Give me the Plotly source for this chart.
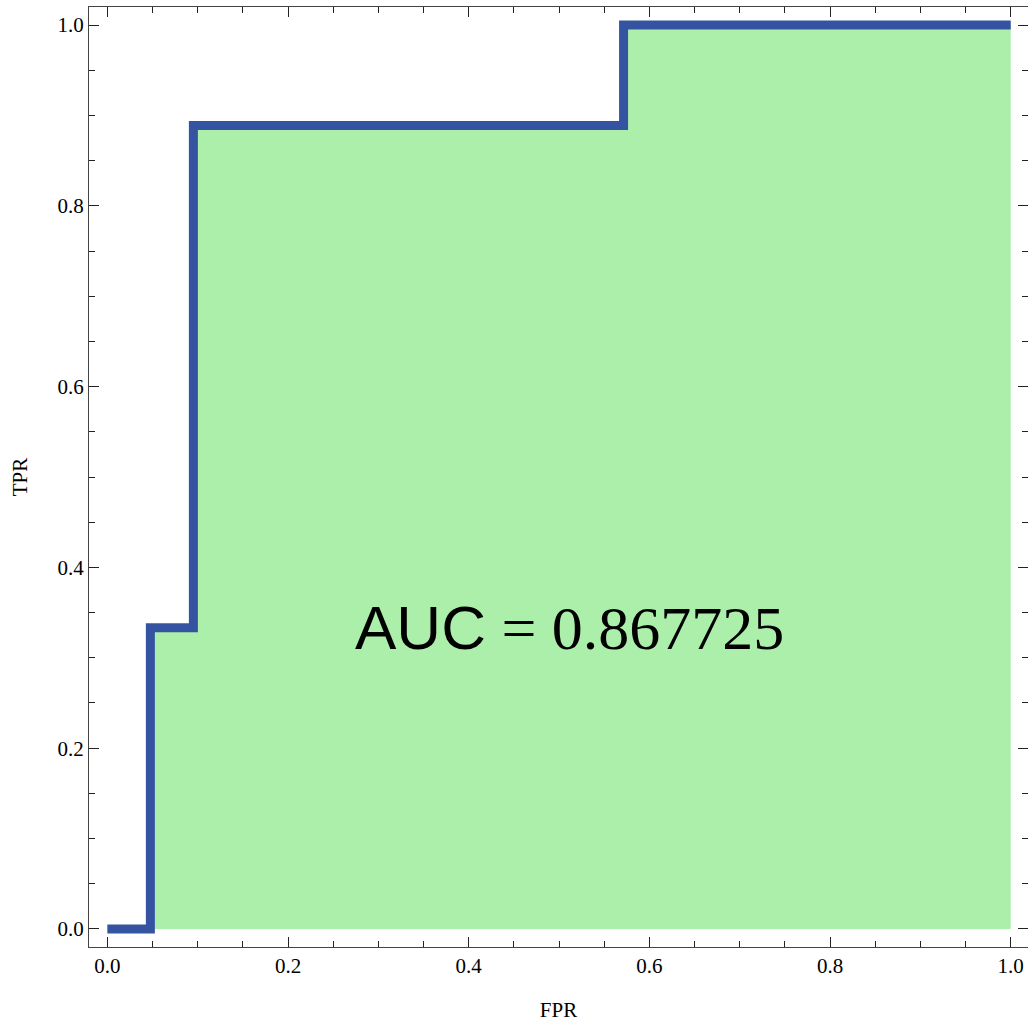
import plotly.graph_objects as go

# ROC curve data (step function)
fpr = [0.0, 1/21, 1/21, 2/21, 2/21, 12/21, 12/21, 1.0]
tpr = [0.0, 0.0, 1/3, 1/3, 8/9, 8/9, 1.0, 1.0]
auc_label = "0.867725"
x_tickvals = [0.0, 0.2, 0.4, 0.6, 0.8, 1.0]
x_ticktext = ["0.0", "0.2", "0.4", "0.6", "0.8", "1.0"]
y_tickvals = [0.0, 0.2, 0.4, 0.6, 0.8, 1.0]
y_ticktext = ["0.0", "0.2", "0.4", "0.6", "0.8", "1.0"]

LINE = "#3454A2"
FILL = "#ACEFAB"
SERIF = "Liberation Serif, Times New Roman, serif"

fig = go.Figure()
fig.add_trace(go.Scatter(x=fpr, y=tpr, mode="lines", line=dict(width=0, color=FILL),
                         fill="tozeroy", fillcolor=FILL, hoverinfo="skip", showlegend=False))
fig.add_trace(go.Scatter(x=fpr, y=tpr, mode="lines", line=dict(width=9, color=LINE),
                         showlegend=False))

fig.add_annotation(x=0.512, y=1/3, xref="x", yref="y", showarrow=False,
                   text="AUC<span style='font-family:Liberation Serif'> = " + auc_label + "</span>",
                   font=dict(family="Liberation Sans, Arial, sans-serif", size=62, color="black"),
                   xanchor="center", yanchor="middle")

axis_common = dict(
    showgrid=False, zeroline=False, showline=True, linecolor="#444", linewidth=1,
    mirror="allticks", ticks="inside", ticklen=10, tickwidth=1, tickcolor="#222",
    tickfont=dict(family=SERIF, size=21, color="black"),
    minor=dict(dtick=0.05, ticks="inside", ticklen=6, tickwidth=1, tickcolor="#222", showgrid=False),
)

fig.update_xaxes(range=[-0.0203, 1.0191], tickvals=x_tickvals, ticktext=x_ticktext,
                 title=dict(text="FPR", font=dict(family=SERIF, size=21, color="black"), standoff=26),
                 **axis_common)
fig.update_yaxes(range=[-0.02, 1.02], tickvals=y_tickvals, ticktext=y_ticktext,
                 title=dict(text="TPR", font=dict(family=SERIF, size=21, color="black"), standoff=24),
                 **axis_common)

fig.update_layout(width=1028, height=1022, autosize=False,
                  margin=dict(l=89, r=0, t=7, b=75),
                  plot_bgcolor="white", paper_bgcolor="white")

fig.write_html("out.html")
